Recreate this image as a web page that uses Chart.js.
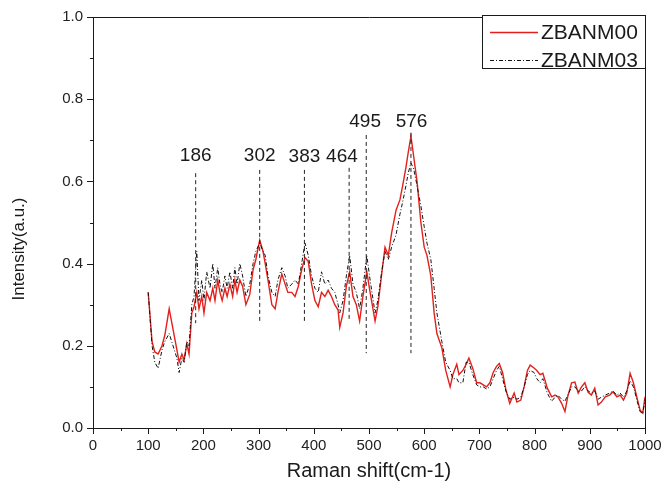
<!DOCTYPE html>
<html>
<head>
<meta charset="utf-8">
<script src="https://cdn.jsdelivr.net/npm/chart.js@4.4.1/dist/chart.umd.min.js"></script>
<style>
  html, body { margin: 0; padding: 0; background: #fff; }
  canvas { display: block; }
</style>
</head>
<body>
<canvas id="ramanChart" width="665" height="491"></canvas>
<script>
// Raman shift positions (cm-1) where the two spectra were read
const shift = [
  100,107,112,118,125,130,138,145,152,156,161,165,170,174,179,183,188,192,197,201,
  206,212,217,221,226,230,234,239,243,248,253,257,261,266,271,277,284,290,295,302,
  308,312,317,324,330,335,342,348,353,360,366,372,378,384,390,396,402,408,414,420,
  426,432,438,444,447,453,459,465,471,477,483,489,496,502,511,516,523,529,
  535,541,549,556,561,567,571,576,581,587,594,600,605,612,618,623,632,639,647,652,
  659,663,670,676,681,688,695,701,707,713,719,725,731,736,742,748,755,763,768,775,
  781,787,792,799,804,810,815,823,831,837,842,849,855,860,867,873,879,885,891,897,
  903,909,915,921,928,936,942,949,955,961,967,973,979,985,991,996,1000
];
const zbanm00 = [
  .33,.21,.185,.18,.20,.225,.29,.24,.19,.16,.18,.165,.205,.18,.28,.295,.33,.29,.32,.28,
  .33,.31,.34,.31,.36,.33,.31,.34,.32,.35,.32,.36,.33,.36,.345,.30,.325,.385,.41,.457,
  .43,.40,.36,.30,.29,.33,.375,.35,.33,.33,.32,.345,.385,.415,.405,.35,.31,.295,.33,.32,
  .335,.32,.30,.287,.245,.28,.345,.38,.32,.30,.26,.32,.38,.33,.26,.295,.375,.44,
  .42,.475,.53,.555,.59,.635,.67,.71,.66,.60,.50,.44,.42,.37,.28,.23,.195,.14,.10,.13,
  .155,.13,.14,.155,.17,.145,.11,.11,.105,.10,.11,.135,.15,.157,.135,.093,.06,.085,.063,.068,
  .10,.14,.153,.146,.14,.13,.133,.097,.076,.08,.076,.06,.04,.076,.11,.112,.085,.10,.11,.087,
  .08,.097,.056,.063,.076,.08,.088,.076,.08,.068,.085,.133,.11,.076,.044,.036,.076
];
const zbanm03 = [
  .33,.20,.16,.145,.19,.21,.23,.20,.17,.135,.17,.16,.21,.20,.30,.32,.43,.31,.36,.31,
  .38,.34,.40,.34,.39,.35,.33,.37,.34,.38,.34,.39,.35,.40,.37,.32,.35,.40,.43,.45,
  .43,.42,.37,.33,.32,.36,.39,.37,.34,.35,.36,.35,.40,.45,.42,.37,.34,.33,.38,.35,
  .36,.34,.33,.30,.28,.31,.37,.42,.35,.33,.29,.34,.42,.36,.28,.31,.38,.43,
  .41,.44,.47,.52,.55,.59,.62,.645,.63,.59,.54,.49,.45,.41,.34,.28,.21,.16,.14,.12,
  .12,.11,.11,.16,.16,.13,.105,.10,.10,.095,.10,.12,.14,.15,.12,.09,.07,.075,.07,.075,
  .10,.13,.14,.135,.12,.11,.12,.085,.065,.075,.08,.07,.065,.08,.10,.10,.09,.09,.10,.09,
  .085,.09,.07,.075,.08,.085,.09,.08,.085,.075,.09,.115,.10,.07,.04,.035,.07
];

// marked peaks: dashed guide from top to bottom, label above
const peakShift = [186, 302, 383, 464, 495, 576];
const peakTop = [0.62, 0.628, 0.628, 0.633, 0.713, 0.718];
const peakBottom = [0.255, 0.258, 0.258, 0.263, 0.182, 0.182];
const peakLabelShift = [186, 302, 383, 451, 493, 577];
const peakLabelY = [0.663, 0.663, 0.66, 0.66, 0.745, 0.745];

const seriesNames = ["ZBANM00", "ZBANM03"];
const xTitle = "Raman shift(cm-1)";
const yTitle = "Intensity(a.u.)";

const FONT = "'Liberation Sans', Arial, sans-serif";

function toPoints(ys) {
  return shift.map((x, i) => ({ x: x, y: ys[i] }));
}

const peakLines = [];
peakShift.forEach((p, i) => {
  peakLines.push({ x: p, y: peakTop[i] });
  peakLines.push({ x: p, y: peakBottom[i] });
  peakLines.push({ x: p, y: null });
});

const framePlugin = {
  id: 'frame',
  afterDraw(chart) {
    const { ctx, chartArea: a, scales: { x, y } } = chart;
    const L = Math.round(a.left), R = Math.round(a.right), T = Math.round(a.top), B = Math.round(a.bottom);
    ctx.save();
    ctx.strokeStyle = '#1a1a1a';
    ctx.lineWidth = 1;
    ctx.setLineDash([]);
    ctx.beginPath();
    ctx.moveTo(L + 0.5, T + 0.5); ctx.lineTo(R + 0.5, T + 0.5);
    ctx.lineTo(R + 0.5, B + 0.5); ctx.lineTo(L + 0.5, B + 0.5);
    ctx.closePath();

    const xt = x.ticks.map(t => t.value);
    xt.forEach((v, i) => {
      const px = Math.round(x.getPixelForValue(v)) + 0.5;
      ctx.moveTo(px, B); ctx.lineTo(px, B + 6);
      if (i < xt.length - 1) {
        const mx = Math.round(x.getPixelForValue((v + xt[i + 1]) / 2)) + 0.5;
        ctx.moveTo(mx, B); ctx.lineTo(mx, B + 3);
      }
    });
    const yt = y.ticks.map(t => t.value);
    yt.forEach((v, i) => {
      const py = Math.round(y.getPixelForValue(v)) + 0.5;
      ctx.moveTo(L + 1, py); ctx.lineTo(L - 6, py);
      if (i < yt.length - 1) {
        const my = Math.round(y.getPixelForValue((v + yt[i + 1]) / 2)) + 0.5;
        ctx.moveTo(L + 1, my); ctx.lineTo(L - 3, my);
      }
    });
    ctx.stroke();

    // peak labels
    ctx.fillStyle = '#1a1a1a';
    ctx.font = '19px ' + FONT;
    ctx.textAlign = 'center';
    ctx.textBaseline = 'middle';
    peakShift.forEach((p, i) => {
      ctx.fillText(String(p), x.getPixelForValue(peakLabelShift[i]), y.getPixelForValue(peakLabelY[i]));
    });

    // axis titles
    ctx.font = '20px ' + FONT;
    ctx.fillText(xTitle, (a.left + a.right) / 2, 471);
    ctx.save();
    ctx.translate(19, 249);
    ctx.rotate(-Math.PI / 2);
    ctx.font = '17px ' + FONT;
    ctx.fillText(yTitle, 0, 0);
    ctx.restore();

    // legend box
    const lx = 482, ly = 15, lw = R - 482, lh = 53;
    ctx.fillStyle = '#fff';
    ctx.fillRect(lx, ly, lw, lh);
    ctx.strokeStyle = '#1a1a1a';
    ctx.lineWidth = 1;
    ctx.strokeRect(lx + 0.5, ly + 0.5, lw, lh);
    const ds = chart.data.datasets;
    [0, 1].forEach(k => {
      const yy = ly + 17 + k * 28;
      ctx.beginPath();
      ctx.strokeStyle = ds[k].borderColor;
      ctx.lineWidth = ds[k].borderWidth;
      ctx.setLineDash(ds[k].borderDash || []);
      ctx.moveTo(lx + 8, yy + 0.5);
      ctx.lineTo(lx + 56, yy + 0.5);
      ctx.stroke();
      ctx.setLineDash([]);
      ctx.fillStyle = '#1a1a1a';
      ctx.font = '21px ' + FONT;
      ctx.textAlign = 'left';
      ctx.fillText(ds[k].label, lx + 59, yy + 1);
    });
    ctx.restore();
  }
};

new Chart(document.getElementById('ramanChart'), {
  type: 'line',
  data: {
    datasets: [
      {
        label: seriesNames[0],
        data: toPoints(zbanm00),
        borderColor: '#e3201b',
        borderWidth: 1.4,
        pointRadius: 0,
        tension: 0,
        order: 2
      },
      {
        label: seriesNames[1],
        data: toPoints(zbanm03),
        borderColor: '#111',
        borderWidth: 1,
        borderDash: [4, 2, 1, 2],
        pointRadius: 0,
        tension: 0,
        order: 1
      },
      {
        label: 'peaks',
        data: peakLines,
        borderColor: '#222',
        borderWidth: 1,
        borderDash: [4, 3],
        pointRadius: 0,
        spanGaps: false,
        order: 0
      }
    ]
  },
  options: {
    responsive: false,
    animation: false,
    layout: { padding: { left: 0, top: 17, right: 20, bottom: 0 } },
    plugins: { legend: { display: false }, tooltip: { enabled: false } },
    scales: {
      x: {
        type: 'linear',
        min: 0,
        max: 1000,
        grid: { display: false, drawTicks: false },
        border: { display: false },
        ticks: { stepSize: 100, padding: 9, color: '#222', font: { family: FONT, size: 15 }, maxRotation: 0,
                 callback: v => String(v) },
        afterFit: s => { s.height = 63; s.paddingLeft = 0; s.paddingRight = 0; }
      },
      y: {
        min: 0,
        max: 1,
        grid: { display: false, drawTicks: false },
        border: { display: false },
        ticks: { stepSize: 0.2, padding: 10, color: '#222', font: { family: FONT, size: 15 },
                 callback: v => v.toFixed(1) },
        afterFit: s => { s.width = 93; s.paddingTop = 0; s.paddingBottom = 0; }
      }
    }
  },
  plugins: [framePlugin]
});
</script>
</body>
</html>
